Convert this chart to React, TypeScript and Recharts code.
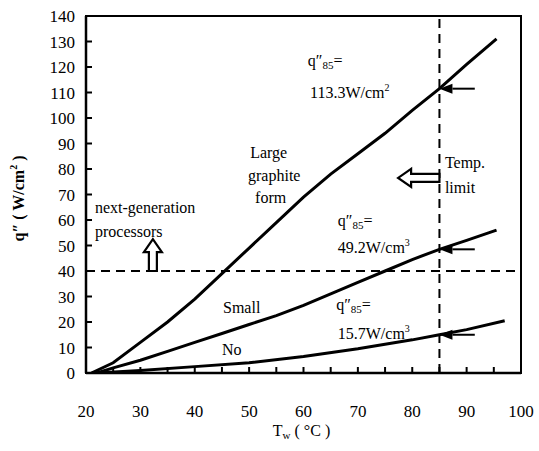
import React from 'react';
import { ComposedChart, Line, XAxis, YAxis, ReferenceLine, ReferenceDot, ReferenceArea, Label } from 'recharts';

const xTicks = [20, 25, 30, 35, 40, 45, 50, 55, 60, 65, 70, 75, 80, 85, 90, 95, 100];
const yTicks = [0, 10, 20, 30, 40, 50, 60, 70, 80, 90, 100, 110, 120, 130, 140];

// q'' vs T_w
const largeGraphite = [
  { t: 21, q: 0 }, { t: 25, q: 4 }, { t: 30, q: 12 }, { t: 35, q: 20 }, { t: 40, q: 29 },
  { t: 45, q: 39 }, { t: 50, q: 49 }, { t: 55, q: 59 }, { t: 60, q: 69 }, { t: 65, q: 78 },
  { t: 70, q: 86 }, { t: 75, q: 94 }, { t: 80, q: 103 }, { t: 85, q: 111.5 }, { t: 90, q: 121 },
  { t: 95.5, q: 131 },
];
const smallGraphite = [
  { t: 22, q: 0 }, { t: 25, q: 2 }, { t: 30, q: 5 }, { t: 35, q: 8.5 }, { t: 40, q: 12 },
  { t: 45, q: 15.5 }, { t: 50, q: 19 }, { t: 55, q: 22.5 }, { t: 60, q: 26.5 }, { t: 65, q: 31 },
  { t: 70, q: 35.5 }, { t: 75, q: 40 }, { t: 80, q: 44.5 }, { t: 85, q: 48.5 }, { t: 90, q: 52 },
  { t: 95.5, q: 56 },
];
const noGraphite = [
  { t: 22, q: 0 }, { t: 30, q: 1 }, { t: 40, q: 2.5 }, { t: 50, q: 4 }, { t: 60, q: 6.5 },
  { t: 70, q: 9.5 }, { t: 80, q: 13 }, { t: 85, q: 15 }, { t: 90, q: 17 }, { t: 97, q: 20.5 },
];

const tempLimit = 85;
const processorLevel = 40;

const FONT = 'Liberation Serif';
const css = `#root .fig svg text, #root .fig svg tspan, html body #root .fig .recharts-wrapper text { font-family: 'Liberation Serif', 'Times New Roman', serif !important; }`;

// forces the serif face even if some stylesheet wins over attributes
const serifRef = (el: SVGTextElement | null) => {
  if (el) el.style.setProperty('font-family', "'Liberation Serif', serif", 'important');
};

const XTick = (props: any) => {
  const { x, y, payload } = props;
  const v = payload.value;
  return (
    <g>
      {v > 20 && v < 100 && <line x1={x} x2={x} y1={y} y2={y - 6} stroke="#000" strokeWidth={2} />}
      {v % 10 === 0 && (
        <text ref={serifRef} x={x} y={y + 44} textAnchor="middle" fontFamily={FONT} fontSize={17} fill="#000">{v}</text>
      )}
    </g>
  );
};

const YTick = (props: any) => {
  const { x, y, payload } = props;
  const v = payload.value;
  return (
    <g>
      {v > 0 && v < 140 && <line x1={x} x2={x + 6} y1={y} y2={y} stroke="#000" strokeWidth={2} />}
      <text ref={serifRef} x={x - 11} y={y + 6} textAnchor="end" fontFamily={FONT} fontSize={17} fill="#000">{v}</text>
    </g>
  );
};

const solidArrow = (p: any) => {
  const { x1, y1, x2, y2 } = p;
  const dx = x2 - x1, dy = y2 - y1;
  const len = Math.hypot(dx, dy);
  const ux = dx / len, uy = dy / len, nx = -uy, ny = ux;
  const hl = 13, hw = 5;
  const bx = x2 - ux * hl, by = y2 - uy * hl;
  return (
    <g>
      <line x1={x1} y1={y1} x2={bx} y2={by} stroke="#000" strokeWidth={2} />
      <polygon points={`${x2},${y2} ${bx + nx * hw},${by + ny * hw} ${bx - nx * hw},${by - ny * hw}`} fill="#000" />
    </g>
  );
};

const hollowArrow = (p: any) => {
  const { x1, y1, x2, y2 } = p;
  const dx = x2 - x1, dy = y2 - y1;
  const len = Math.hypot(dx, dy);
  const ux = dx / len, uy = dy / len, nx = -uy, ny = ux;
  const hl = 13, hw = 9, bw = 4;
  const bx = x2 - ux * hl, by = y2 - uy * hl;
  const pts = [
    [x1 + nx * bw, y1 + ny * bw], [bx + nx * bw, by + ny * bw], [bx + nx * hw, by + ny * hw],
    [x2, y2], [bx - nx * hw, by - ny * hw], [bx - nx * bw, by - ny * bw], [x1 - nx * bw, y1 - ny * bw],
  ].map((a) => a.join(',')).join(' ');
  return <polygon points={pts} fill="#fff" stroke="#000" strokeWidth={2.2} />;
};

const q85 = (
  <>
    q<tspan>″</tspan><tspan fontSize={11} dy={3}>85</tspan><tspan dy={-3}>=</tspan>
  </>
);

const note = (key: string, t: number, q: number, content: React.ReactNode) => (
  <ReferenceDot
    key={key}
    x={t}
    y={q}
    r={0}
    shape={(p: any) => (
      <text ref={serifRef} x={p.cx} y={p.cy} fontFamily={FONT} fontSize={16} fill="#000">{content}</text>
    )}
  />
);

export default function App() {
  return (
    <div className="fig" style={{ position: 'absolute', left: 0, top: 0, background: '#fff' }}>
      <style>{css}</style>
      <ComposedChart width={539} height={451} margin={{ top: 16, right: 18, left: 0, bottom: 0 }}>
        <XAxis
          type="number"
          dataKey="t"
          domain={[20, 100]}
          ticks={xTicks}
          interval={0}
          height={78}
          tickSize={0}
          tickMargin={0}
          tick={<XTick />}
          axisLine={{ stroke: '#000', strokeWidth: 2.5 }}
          allowDataOverflow
        >
          <Label
            content={(p: any) => {
              const vb = p.viewBox;
              return (
                <text ref={serifRef} x={vb.x + vb.width / 2 - 2} y={vb.y + 63} textAnchor="middle" fontFamily={FONT} fontSize={16} fill="#000">
                  T<tspan fontSize={11} dy={3}>w</tspan><tspan dy={-3}> ( °C )</tspan>
                </text>
              );
            }}
          />
        </XAxis>
        <YAxis
          type="number"
          domain={[0, 140]}
          ticks={yTicks}
          interval={0}
          width={86}
          tickSize={0}
          tickMargin={0}
          tick={<YTick />}
          axisLine={{ stroke: '#000', strokeWidth: 2.5 }}
          allowDataOverflow
        >
          <Label
            content={(p: any) => {
              const vb = p.viewBox;
              const cx = vb.x + 24;
              const cy = vb.y + vb.height / 2 + 4;
              return (
                <text ref={serifRef} x={cx} y={cy} transform={`rotate(-90 ${cx} ${cy})`} textAnchor="middle" fontFamily={FONT} fontSize={16} fontWeight="bold" fill="#000">
                  q″ ( W/cm<tspan fontSize={10} dy={-7}>2</tspan><tspan dy={7}> )</tspan>
                </text>
              );
            }}
          />
        </YAxis>

        <ReferenceArea x1={20} x2={100} y1={0} y2={140} fill="none" stroke="#000" strokeWidth={2} />

        <ReferenceLine x={tempLimit} stroke="#000" strokeWidth={2} strokeDasharray="9 6" />
        <ReferenceLine y={processorLevel} stroke="#000" strokeWidth={2} strokeDasharray="9 6" />

        <Line data={largeGraphite} dataKey="q" type="linear" stroke="#000" strokeWidth={3} dot={false} isAnimationActive={false} />
        <Line data={smallGraphite} dataKey="q" type="linear" stroke="#000" strokeWidth={3} dot={false} isAnimationActive={false} />
        <Line data={noGraphite} dataKey="q" type="linear" stroke="#000" strokeWidth={3} dot={false} isAnimationActive={false} />

        <ReferenceLine segment={[{ x: 91.5, y: 111.5 }, { x: tempLimit, y: 111.5 }]} shape={solidArrow} />
        <ReferenceLine segment={[{ x: 91.5, y: 48.5 }, { x: tempLimit, y: 48.5 }]} shape={solidArrow} />
        <ReferenceLine segment={[{ x: 91.5, y: 15 }, { x: tempLimit, y: 15 }]} shape={solidArrow} />
        <ReferenceLine segment={[{ x: tempLimit, y: 76.5 }, { x: 77.4, y: 76.5 }]} shape={hollowArrow} />
        <ReferenceLine segment={[{ x: 32.3, y: processorLevel }, { x: 32.3, y: 52.5 }]} shape={hollowArrow} />

        {note('n1', 60.8, 120.5, q85)}
        {note('n2', 61.2, 108, <>113.3W/cm<tspan fontSize={10} dy={-7}>2</tspan></>)}
        {note('n3', 50.2, 84.3, 'Large')}
        {note('n4', 49.8, 75.3, 'graphite')}
        {note('n5', 51.1, 66.7, 'form')}
        {note('n6', 86, 80.4, 'Temp.')}
        {note('n7', 86, 70.6, 'limit')}
        {note('n8', 21.65, 62.7, 'next-generation')}
        {note('n9', 21.65, 53.3, 'processors')}
        {note('n10', 66.3, 57.6, q85)}
        {note('n11', 66.3, 47, <>49.2W/cm<tspan fontSize={10} dy={-7}>3</tspan></>)}
        {note('n12', 45.2, 23.5, 'Small')}
        {note('n13', 66, 24.7, q85)}
        {note('n14', 66.3, 13.3, <>15.7W/cm<tspan fontSize={10} dy={-7}>3</tspan></>)}
        {note('n15', 45, 7.1, 'No')}
      </ComposedChart>
    </div>
  );
}
